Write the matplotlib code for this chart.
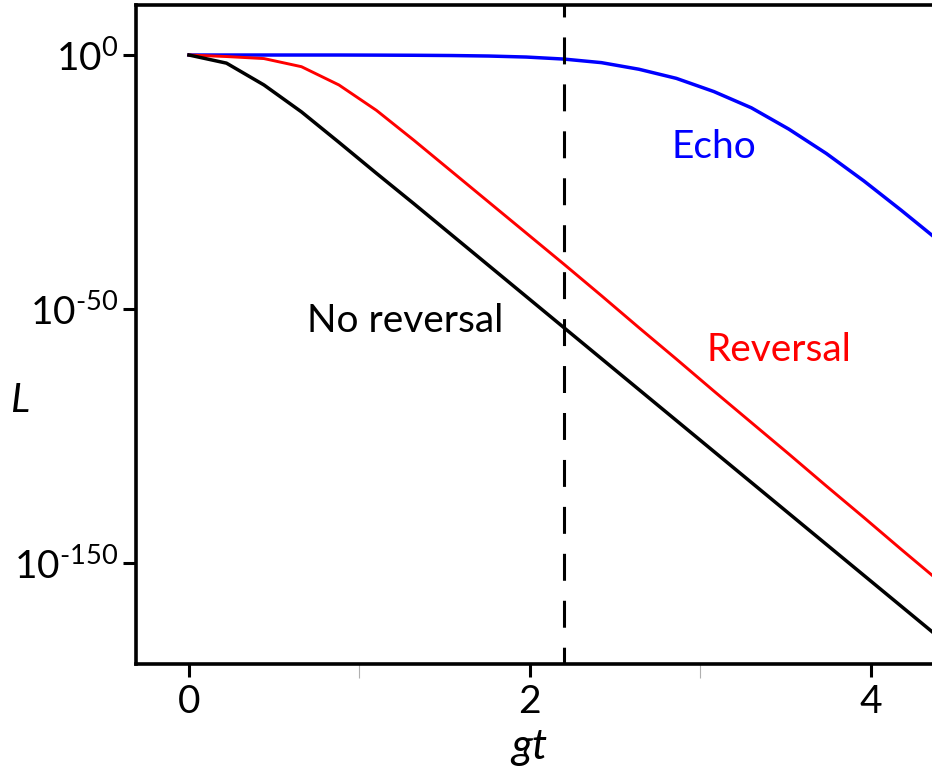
import numpy as np
import matplotlib
matplotlib.use("Agg")
import matplotlib.pyplot as plt

plt.rcParams['font.family'] = ['Lato', 'DejaVu Sans']
plt.rcParams['mathtext.fontset'] = 'custom'
plt.rcParams['mathtext.rm'] = 'Lato'
plt.rcParams['mathtext.it'] = 'Lato:italic'
plt.rcParams['lines.scale_dashes'] = False

# gt sampled every 0.22
gt = [0.0, 0.22, 0.44, 0.66, 0.88, 1.10, 1.32, 1.54, 1.76, 1.98, 2.20,
      2.42, 2.64, 2.86, 3.08, 3.30, 3.52, 3.74, 3.96, 4.18, 4.40]

# log10 L for each protocol
no_reversal = [0.0, -1.6, -5.9, -11.2, -17.2, -23.3, -29.3, -35.4, -41.5, -47.6, -53.7,
               -59.8, -65.9, -72.0, -78.1, -84.2, -90.3, -96.4, -102.5, -108.6, -114.7]
reversal = [0.0, -0.3, -0.7, -2.3, -5.9, -10.9, -16.8, -22.9, -29.0, -35.1, -41.2,
            -47.4, -53.7, -59.9, -66.2, -72.4, -78.6, -84.9, -91.1, -97.4, -103.6]
echo = [0.0, 0.0, 0.0, 0.0, 0.0, -0.02, -0.05, -0.1, -0.2, -0.4, -0.8,
        -1.5, -2.8, -4.6, -7.2, -10.4, -14.6, -19.4, -24.8, -30.6, -36.6]

t_switch = 2.2

yticks = [0, -50, -100]
ytick_labels = ['$\\mathregular{10^{0}}$',
                '$\\mathregular{10^{\\text{-}50}}$',
                '$\\mathregular{10^{\\text{-}150}}$']

fig = plt.figure(figsize=(9.32, 7.71), dpi=100)
ax = fig.add_axes([0.1459, 0.1392, 0.8541, 0.8539])

ax.plot(gt, echo, color='#0000ff', lw=2.5)
ax.plot(gt, reversal, color='#ff0000', lw=2.1)
ax.plot(gt, no_reversal, color='black', lw=2.5)

ytop, ybot = 9.79, -119.9
ax.plot([t_switch, t_switch], [ytop, ybot], color='black', lw=2.2,
        ls=(10.8, (19.4, 14.4)))

ax.set_xlim(-0.311, 4.36)
ax.set_ylim(ybot, ytop)

ax.set_xticks([0, 2, 4])
ax.set_xticklabels(['0', '2', '4'])
ax.set_xticks([1, 3], minor=True)
ax.set_yticks(yticks)
ax.set_yticklabels(ytick_labels)

ax.tick_params(axis='both', which='major', direction='out', length=9.5, width=2.2,
               labelsize=28)
ax.tick_params(axis='x', which='major', pad=5)
ax.tick_params(axis='y', which='major', pad=3)
ax.tick_params(axis='x', which='minor', direction='out', length=10, width=0.8,
               color='#b0b0b0')
ax.tick_params(axis='y', which='minor', left=False)

for side in ['left', 'top', 'bottom']:
    ax.spines[side].set_linewidth(2.6)
ax.spines['right'].set_visible(False)

ax.set_xlabel('gt', fontsize=31, style='italic', labelpad=0, va='top')
ax.set_ylabel('L', fontsize=29, style='italic', rotation=0, labelpad=0,
              ha='center', va='center')
ax.xaxis.set_label_coords(0.494, -0.097)
ax.yaxis.set_label_coords(-0.1457, 0.4005)

ax.text(3.08, -18.1, 'Echo', color='#0000ff', fontsize=28, ha='center', va='center')
ax.text(1.27, -52.4, 'No reversal', color='black', fontsize=28, ha='center', va='center')
ax.text(3.46, -58.1, 'Reversal', color='#ff0000', fontsize=28, ha='center', va='center')

fig.savefig('out.png', dpi=100)
